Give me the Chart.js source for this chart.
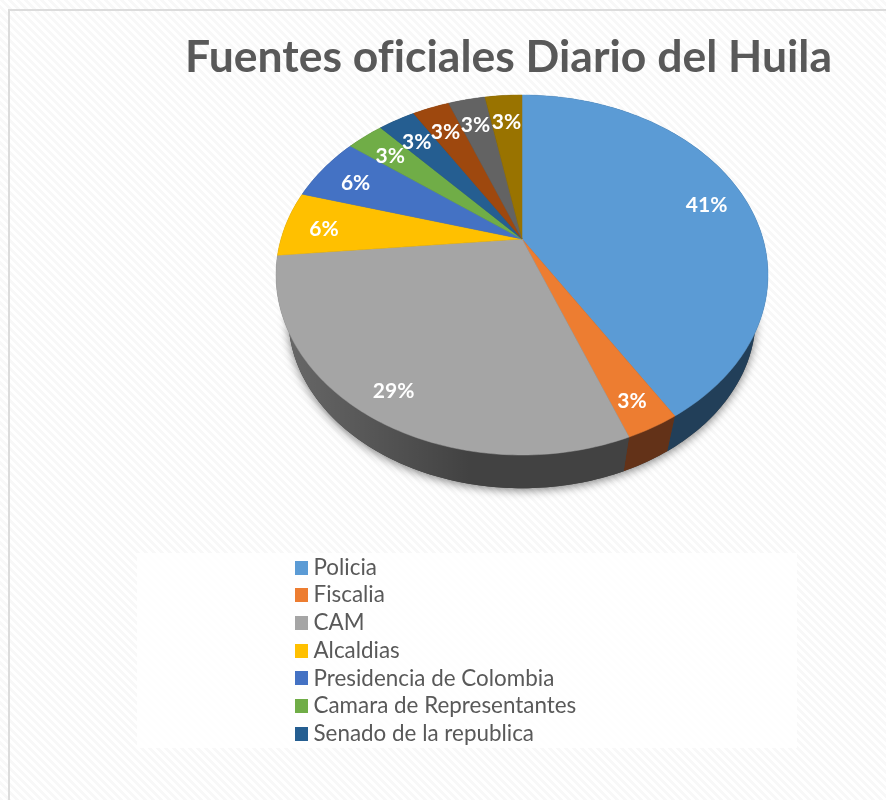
<!DOCTYPE html>
<html>
<head>
<meta charset="utf-8">
<style>
  html, body { margin: 0; padding: 0; background: #fff; }
  canvas { display: block; }
</style>
<script src="https://cdn.jsdelivr.net/npm/chart.js@4/dist/chart.umd.min.js"></script>
</head>
<body>
<canvas id="chart" width="886" height="800"></canvas>
<script>
const chartTitle = 'Fuentes oficiales Diario del Huila';
// the last three slices have no readable legend entry in the picture
const categories = ['Policia', 'Fiscalia', 'CAM', 'Alcaldias', 'Presidencia de Colombia',
    'Camara de Representantes', 'Senado de la republica', 'Otra 1', 'Otra 2', 'Otra 3'];
const sourceCounts = [14, 1, 10, 2, 2, 1, 1, 1, 1, 1];
const sliceColors = ['#5B9BD5', '#ED7D31', '#A5A5A5', '#FFC000', '#4472C4',
    '#70AD47', '#255E91', '#9E480E', '#636363', '#997300'];
const wallColors = ['#223F59', '#633218', '#424242', '#6B5000', '#1C3156',
    '#2F4A1E', '#10283E', '#431E06', '#2A2A2A', '#403000'];
const LEGEND_ENTRIES = 7;

// 3D look: a perspective view of the round pie
const APEX = { x: 522, y: 239 };
const RADIUS_X = 241;
const RADIUS_Y = 172.8;
const TILT = -0.2;
const FLOOR_SCALE = 0.95;
const FLOOR_DROP = 44;
const LABEL_AT = 0.84;
const LABEL_DROP = 3.5;
const ARC_STEP = Math.PI / 180;

// angle is the canvas angle Chart.js gives to the arc elements
const project = (angle, floor = false) => {
    let u = Math.cos(angle);
    let v = Math.sin(angle);
    let div = 1 + TILT * v;
    let x = RADIUS_X * u / div;
    let y = RADIUS_Y * v / div;
    if (floor) {
        return { x: APEX.x + x * FLOOR_SCALE, y: APEX.y + FLOOR_DROP + y * FLOOR_SCALE };
    }
    return { x: APEX.x + x, y: APEX.y + y };
}

const arcPoints = (start, end, floor) => {
    let points = [];
    for (let a = start; a < end; a += ARC_STEP) {
        points.push(project(a, floor));
    }
    points.push(project(end, floor));
    return points;
}

const tracePoints = (ctx, points) => {
    points.forEach((p) => ctx.lineTo(p.x, p.y));
}

const stripes = () => {
    let size = 8;
    let tile = document.createElement('canvas');
    tile.width = size;
    tile.height = size;
    let tileCtx = tile.getContext('2d');
    tileCtx.fillStyle = '#ffffff';
    tileCtx.fillRect(0, 0, size, size);
    tileCtx.fillStyle = '#f8f8f8';
    for (let y = 0; y < size; y++) {
        for (let x = 0; x < size; x++) {
            if ((x - y + size) % size < 4) {
                tileCtx.fillRect(x, y, 1, 1);
            }
        }
    }
    return tile;
}

// legend keys are small images so they can sit close to the text
const legendKey = (color) => {
    let key = document.createElement('canvas');
    key.width = 14;
    key.height = 14;
    let keyCtx = key.getContext('2d');
    keyCtx.fillStyle = color;
    keyCtx.fillRect(0, 0, 14, 14);
    return key;
}

const backgroundPlugin = {
    id: 'sheetBackground',
    beforeDraw(chart) {
        let { ctx, width, height } = chart;
        ctx.save();
        ctx.fillStyle = ctx.createPattern(stripes(), 'repeat');
        ctx.fillRect(0, 0, width, height);
        ctx.fillStyle = '#dcdcdc';
        ctx.fillRect(8, 9, width - 8, 2);
        ctx.fillRect(8, 9, 2, height - 9);
        ctx.fillStyle = 'rgba(255,255,255,0.85)';
        ctx.fillRect(137, 553, 660, 195);
        ctx.restore();
        // a tiny spacing keeps the "fi" in the title as two letters
        ctx.letterSpacing = '0.01px';
    }
}

const placementPlugin = {
    id: 'placeBlocks',
    afterLayout(chart) {
        let title = chart.titleBlock;
        title.left = 185;
        title.right = 832;
        title.top = 31;
        title.bottom = title.top + title.height;
        let legend = chart.legend;
        legend.left = 295;
        legend.right = legend.left + legend.width;
        legend.top = 551;
        legend.bottom = legend.top + legend.height;
    }
}

const perspectivePiePlugin = {
    id: 'perspectivePie',
    beforeDatasetDraw(chart, args) {
        let { ctx } = chart;
        let arcs = args.meta.data;
        ctx.save();

        // soft shadow under the pie
        ctx.save();
        ctx.shadowColor = 'rgba(0,0,0,0.5)';
        ctx.shadowBlur = 10;
        ctx.shadowOffsetY = 2;
        ctx.fillStyle = '#424242';
        ctx.beginPath();
        tracePoints(ctx, arcPoints(-Math.PI / 2, Math.PI * 1.5, true));
        ctx.closePath();
        ctx.fill();
        ctx.restore();

        let sheen = ctx.createLinearGradient(285, 0, 470, 0);
        sheen.addColorStop(0, 'rgba(255,255,255,0.2)');
        sheen.addColorStop(1, 'rgba(255,255,255,0)');
        arcs.forEach((arc, i) => {
            let top = arcPoints(arc.startAngle, arc.endAngle, false);
            let floor = arcPoints(arc.startAngle, arc.endAngle, true).reverse();
            ctx.beginPath();
            tracePoints(ctx, top.concat(floor));
            ctx.closePath();
            ctx.fillStyle = wallColors[i];
            ctx.fill();
            ctx.fillStyle = sheen;
            ctx.fill();
        });

        arcs.forEach((arc, i) => {
            ctx.fillStyle = sliceColors[i];
            ctx.strokeStyle = sliceColors[i];
            ctx.lineWidth = 0.5;
            ctx.beginPath();
            ctx.moveTo(APEX.x, APEX.y);
            tracePoints(ctx, arcPoints(arc.startAngle, arc.endAngle, false));
            ctx.closePath();
            ctx.fill();
            ctx.stroke();
        });

        let total = sourceCounts.reduce((a, b) => a + b, 0);
        ctx.fillStyle = '#ffffff';
        ctx.font = 'bold 21px Lato';
        ctx.textAlign = 'center';
        ctx.textBaseline = 'middle';
        arcs.forEach((arc, i) => {
            let rim = project((arc.startAngle + arc.endAngle) / 2);
            let x = APEX.x + (rim.x - APEX.x) * LABEL_AT;
            let y = APEX.y + (rim.y - APEX.y) * LABEL_AT + LABEL_DROP;
            ctx.fillText(Math.round(sourceCounts[i] / total * 100) + '%', x, y);
        });

        ctx.restore();
        return false;
    }
}

new Chart(document.getElementById('chart'), {
    type: 'pie',
    data: {
        labels: categories,
        datasets: [{
            data: sourceCounts,
            backgroundColor: sliceColors,
            borderWidth: 0
        }]
    },
    options: {
        responsive: false,
        animation: false,
        plugins: {
            title: {
                display: true,
                text: chartTitle,
                color: '#595959',
                font: { family: 'Lato', size: 44.8, weight: 'bold' },
                padding: 0
            },
            legend: {
                position: 'left',
                align: 'start',
                labels: {
                    color: '#595959',
                    font: { family: 'Lato', size: 22.4 },
                    usePointStyle: true,
                    pointStyleWidth: 2,
                    boxHeight: 14,
                    padding: 5.3,
                    generateLabels: (chart) => {
                        let items = Chart.overrides.pie.plugins.legend.labels.generateLabels(chart);
                        return items.slice(0, LEGEND_ENTRIES).map((item, i) => {
                            return { ...item, pointStyle: legendKey(sliceColors[i]) };
                        });
                    }
                }
            },
            tooltip: { enabled: false }
        }
    },
    plugins: [backgroundPlugin, placementPlugin, perspectivePiePlugin]
});
</script>
</body>
</html>
